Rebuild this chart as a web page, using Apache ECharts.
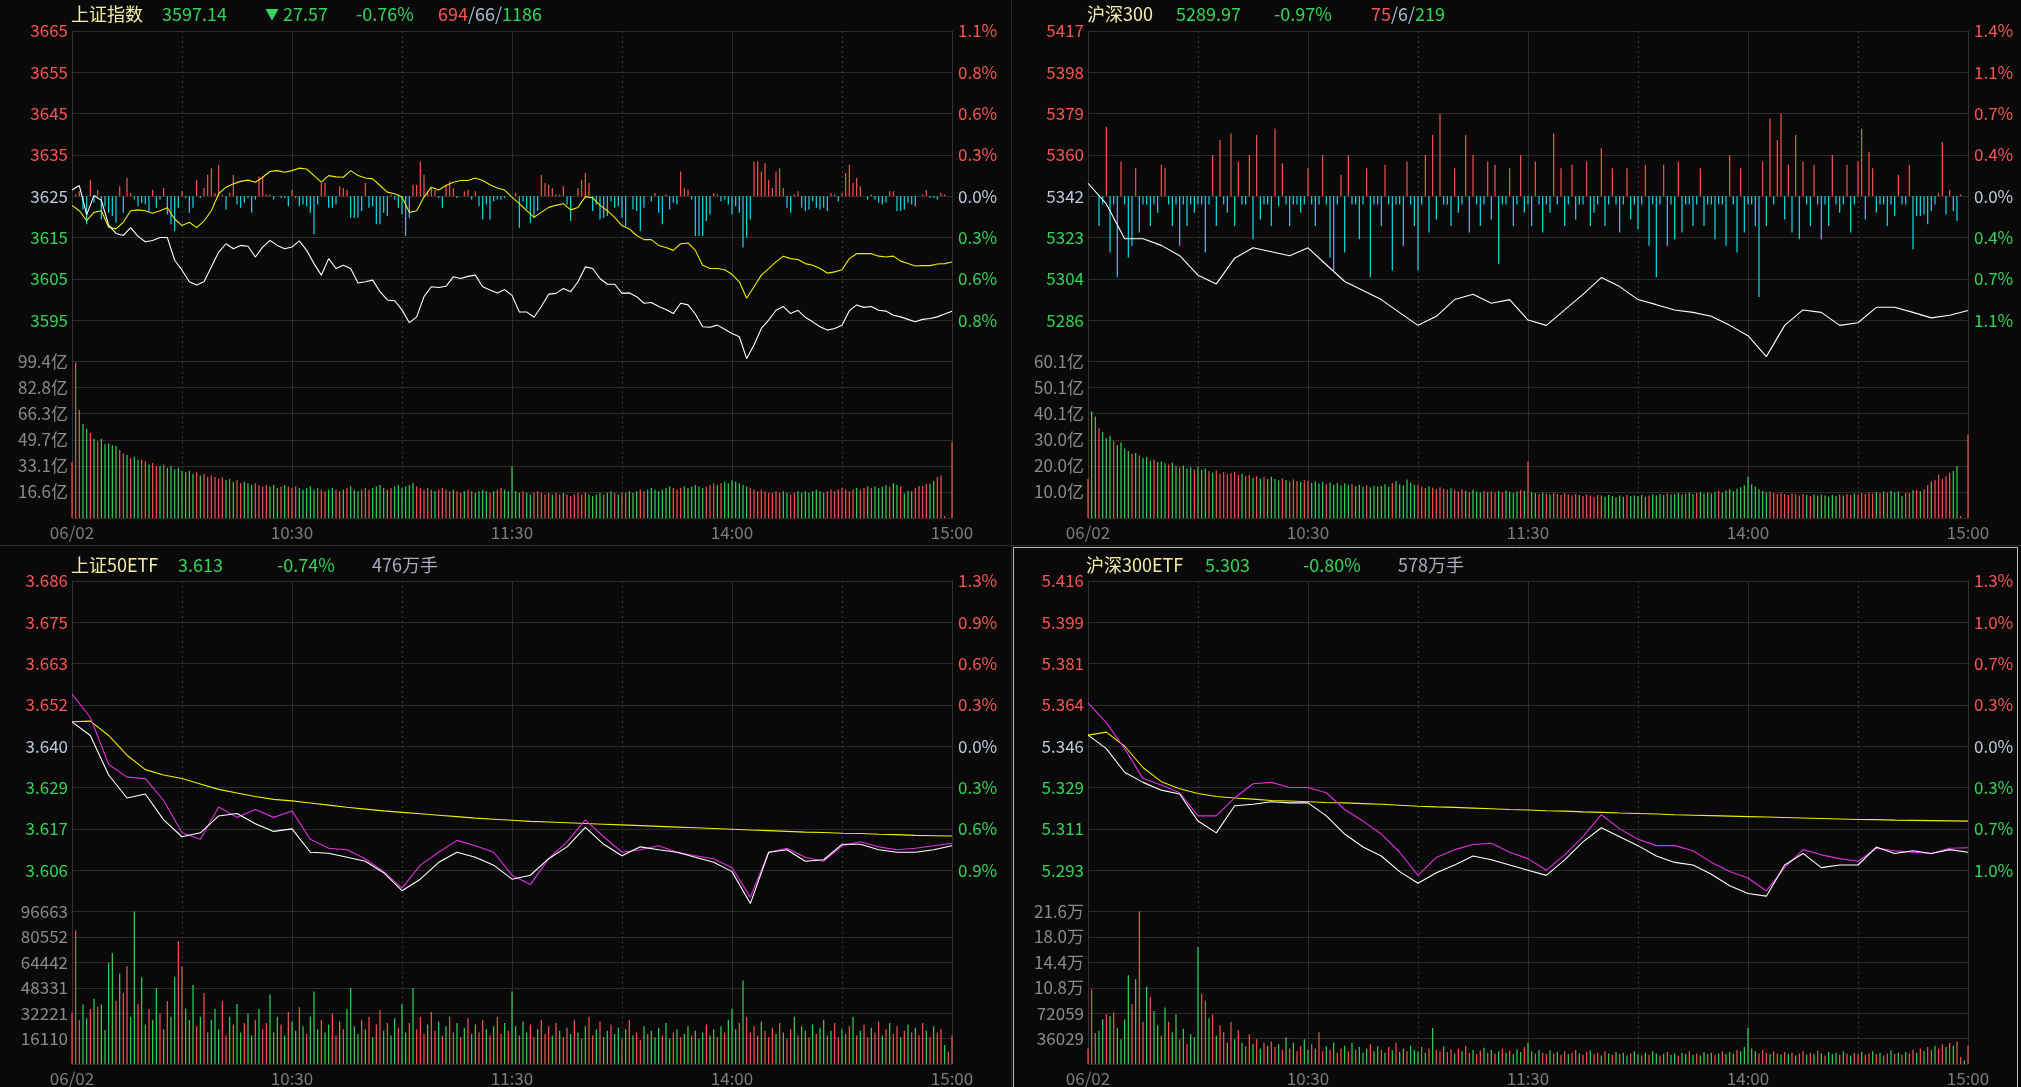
<!DOCTYPE html>
<html><head><meta charset="utf-8">
<script src="https://cdn.jsdelivr.net/npm/echarts@6/dist/echarts.min.js"></script>
<style>html,body{margin:0;padding:0;background:#090909;}#c{width:2021px;height:1087px;}</style>
</head><body><div id="c"></div>
<script>
const FONT = '"Noto Sans CJK SC","Noto Sans",sans-serif';
const RED = '#f75454', GREEN = '#34d458', CYAN = '#14dbe9', NEUTRAL = '#bccadb', GREY = '#8a8a8a';
const WHITE = '#ffffff', YELLOW = '#eded00', MAGENTA = '#e02ee0';
const timeLabels = ['06/02', '10:30', '11:30', '14:00', '15:00'];

// ---------- 上证指数 ----------
const shHeader = ['上证指数', '3597.14', '27.57', '-0.76%', '694', '66', '1186'];
const shPriceTicks = ['', '3595', '3605', '3615', '3625', '3635', '3645', '3655', '3665'];
const shPctTicks = ['', '0.8%', '0.6%', '0.3%', '0.0%', '0.3%', '0.6%', '0.8%', '1.1%'];
const shVolTicks = ['', '16.6亿', '33.1亿', '49.7亿', '66.3亿', '82.8亿', '99.4亿'];
const shPrice = [3626.5,3627.6,3620.5,3625.2,3624.0,3618.0,3616.0,3615.5,3617.4,3615.3,3614.0,3614.3,3615.0,3615.0,3609.5,3607.1,3604.3,3603.5,3604.3,3607.9,3611.5,3613.5,3612.3,3613.1,3612.9,3610.3,3612.7,3614.3,3613.1,3612.3,3612.7,3614.2,3611.9,3608.7,3605.9,3609.9,3607.5,3608.3,3607.5,3604.0,3604.3,3604.7,3601.9,3599.9,3599.7,3597.5,3594.4,3595.8,3600.7,3603.1,3602.9,3603.2,3605.5,3605.1,3605.6,3605.9,3603.1,3602.3,3601.6,3602.4,3601.0,
3597.0,3597.0,3595.7,3598.3,3601.3,3601.5,3602.7,3601.9,3604.3,3607.9,3607.5,3605.1,3603.7,3603.7,3601.5,3601.6,3600.7,3599.1,3599.3,3598.3,3597.6,3596.6,3599.1,3598.7,3596.5,3593.4,3593.3,3593.8,3592.8,3591.8,3591.0,3585.7,3589.0,3593.0,3595.0,3597.4,3598.3,3596.6,3597.4,3595.7,3594.6,3593.4,3592.6,3593.0,3593.8,3597.3,3598.7,3598.1,3598.3,3597.4,3597.2,3596.2,3595.8,3595.2,3594.6,3595.2,3595.4,3595.8,3596.5,3597.14];
const shLead = [3622.8,3621.5,3619.1,3621.1,3621.5,3617.5,3617.1,3618.7,3621.5,3621.7,3621.5,3620.9,3621.5,3622.2,3619.5,3617.9,3618.7,3617.4,3619.0,3621.5,3625.6,3627.2,3628.0,3628.6,3628.9,3628.4,3629.6,3631.0,3631.2,3630.8,3631.2,3631.8,3631.6,3630.0,3628.4,3630.0,3629.7,3629.6,3631.2,3630.0,3629.4,3629.2,3627.6,3626.0,3625.6,3624.8,3621.1,3621.5,3624.8,3627.2,3626.5,3627.6,3628.4,3628.8,3628.8,3629.4,3628.8,3627.8,3627.0,3626.5,3624.8,
3623.2,3621.5,3619.9,3621.1,3622.3,3622.8,3623.2,3621.7,3622.3,3624.9,3624.6,3622.8,3621.5,3619.9,3617.9,3617.1,3615.5,3614.5,3614.5,3613.1,3612.6,3611.9,3613.5,3613.7,3611.9,3608.3,3607.5,3607.5,3607.2,3606.1,3604.3,3600.3,3603.1,3605.9,3607.5,3609.1,3610.5,3609.9,3609.7,3608.7,3608.3,3607.5,3606.4,3606.7,3607.2,3609.9,3611.1,3611.1,3611.1,3610.5,3610.3,3610.5,3609.3,3608.7,3608.1,3608.2,3608.2,3608.6,3608.7,3609.1];
const shBreadth = [0,1,3,-8,-17,10,-4,4,-14,-6,-10,-12,-16,6,-10,11,2,-2,-6,-4,-5,-9,4,-7,-2,5,-11,-17,-21,-7,3,-1,-10,-7,10,-1,5,13,17,2,19,1,-8,2,13,-5,-7,-4,-1,-10,-2,12,12,1,1,-2,0,-1,-1,-6,4,-1,-6,-5,-6,-10,-23,-5,8,8,-7,-7,-5,6,5,4,-13,-13,-13,-9,8,-7,-6,-17,-17,-10,-12,1,-2,-7,-11,-24,-13,7,7,21,13,3,5,4,-1,-7,7,9,5,-1,0,3,4,-2,3,-6,-14,-5,-14,-3,-2,-2,-1,0,0,
2,-19,-3,-8,-16,-13,-9,13,8,7,5,1,1,6,-5,-15,0,5,10,14,8,-9,-5,-14,-13,-12,-3,-7,-6,-13,-18,0,-8,-9,-21,-7,0,-3,2,-10,-17,1,-8,-4,-5,15,5,4,-2,-24,-24,-24,-15,-11,2,1,-3,-2,-5,-11,-6,-10,-31,-25,-14,21,21,15,20,10,5,15,17,5,-7,-10,1,3,-7,-9,-8,-3,-7,-8,-7,-9,2,1,-3,2,14,19,8,11,6,0,-2,1,-2,-4,-5,-4,3,3,-9,-9,-8,-4,-5,-6,0,1,4,-1,-1,-2,2,1,0,0];
const shVol = [35.6,98.8,68.6,59.7,56.5,54.2,50.4,48.7,50.4,46.9, 47.4,46.2,45.8,43.2,41,40,38,39,37,37, 36,34,35,33,33,34,32,33,31,32, 30,29,30,28,29,27,28,26,27,26, 25,26,24,25,23,24,22,23,22,21,
22,21,20,21,20,21,19,20,21,20, 19,20,19,18,19,20,18,19,18,17, 18,19,18,17,18,19,20,18,17,18, 19,18,19,20,21,19,18,19,20,21, 19,20,21,22,20,19,18,19,18,17,
18,19,18,17,18,17,16,17,18,17, 16,17,18,17,16,17,18,19,18,17, 32.7,17,16,17,16,15,16,17,16,15, 16,15,16,15,16,15,14,15,16,15, 16,15,14,15,16,15,16,17,16,15,
16,16,17,16,17,18,17,18,19,18, 17,18,19,20,19,18,19,20,19,20, 21,20,19,20,21,22,21,22,23,22, 24,23,22,21,20,19,18,17,18,17, 16,16,17,16,17,16,15,16,17,16,
17,16,17,18,17,16,17,18,17,18, 19,18,17,18,19,18,19,20,19,20, 19,20,21,20,22,21,20,15.5,17.3,17, 19,20.4,20.4,21.6,21.6,23.5,26,27,1.2,0,48.3];
const shVolDir = 'rrrggrgrgg' + 'gggrrgrggr' + 'rgrrgrgggg' + 'ggggrgrrrr' + 'rrgrgrrggg' + 'rrrrgggrgr' + 'rrgggggrrr' + 'ggrrgrgggr' +
  'rrgggggrgg' + 'ggggrrrrrg' + 'rrrrgrrgrr' + 'ggggrgrrgg' + 'gggrggrrrr' + 'rgrrgrrrrr' + 'rggggrggrg' + 'rrgggrrggg' +
  'ggggrrrggg' + 'gggrrrgrgg' + 'gggggrrrrr' + 'rrrrggrrgg' + 'ggggggrrrr' + 'rrrrgrrgrg' + 'gggrggrggg' + 'rrrrggrrrgr';

// ---------- 沪深300 ----------
const hsHeader = ['沪深300', '5289.97', '-0.97%', '75', '6', '219'];
const hsPriceTicks = ['', '5286', '5304', '5323', '5342', '5360', '5379', '5398', '5417'];
const hsPctTicks = ['', '1.1%', '0.7%', '0.4%', '0.0%', '0.4%', '0.7%', '1.1%', '1.4%'];
const hsVolTicks = ['', '10.0亿', '20.0亿', '30.0亿', '40.1亿', '50.1亿', '60.1亿'];
const hsPrice = [5347.7,5338.3,5322.5,5322.5,5319.5,5314.8,5306,5302,5313.7,5318.4,5316.6,5314.8,5318.4,5310.7,5303.1,5299,5294.9,5289,5283.2,5287.3,5294.9,5297.3,5293.2,5294.9,5285.6,5283.2,5290.2,5297.3,5304.9,5300.8,5294.9,5292.6,5290.2,5289.1,5287.3,5283.2,5278.5,5269,5283.2,5290.2,5289.1,5283.2,5284.4,5291.4,5291.4,5289.1,5286.6,5287.8,5289.97];
const hsBreadth = [0,0,0,-18,-5,42,-34,-5,-49,21, -5,-37,-30,17,-22,-5,-5,-18,-5,-10, 19,17,-5,-18,-5,-30,-5,-18,-5,-10, -5,-5,-34,-5,25,-18,34,-5,-10,38, -18,21,-5,-5,25,-26,37,-14,-5,-5,
-18,41,-6,20,-5,-18,-5,-5,-10,-5, 17,-5,-18,-5,25,-5,-37,-45,-5,13, -34,25,-5,-5,-26,-5,17,-49,-5,-5, -18,19,-5,-45,-5,-5,-30,21,-5,-18, -45,-5,25,-22,37,-14,50,-5,-5,-18,
17,-10,-5,37,-22,25,-5,-18,-5,21, -14,19,-41,-5,-5,17,-18,-5,25,-10, -5,-18,21,-5,-22,-5,-10,38,-5,17, -18,-5,19,-14,-5,-5,21,-18,-10,-5, 29,-18,-5,17,-5,-22,-5,17,-14,-5,
-20,-5,19,-30,-5,-49,-5,19,-30,-5, -26,21,-22,-5,-5,-18,-5,17,-18,-5, -5,-26,-5,-5,-30,25,-5,-34,17,-22, -5,-5,-18,-61,21,-18,47,-5,34,50, -14,19,-22,37,-26,21,-5,-18,19,-5,
-26,-5,-18,25,-5,-10,-5,19,-22,-5, 21,41,-14,27,17,-10,-5,-5,-18,-5, -12,13,-5,-5,19,-32,-12,-12,-11,-17, -9,-5,2,33,-11,4,-9,-15,1,0,0];
const hsVol = [15,41,39,34.5,33,30.6,31.6,29.6,28,29, 26.7,25.7,24.7,25,24,23,23.5,22,22.5,21.5, 21.7,21,20.5,21.2,20,19.5,20.2,19,19.5,18.6, 19.8,18.5,19,18,17.5,18.2,17,17.6,16.8,17.2, 17.8,16.5,17,16,16.5,15.5,16,15.2,15.8,15,
15.8,15,14.5,15.2,14.6,14,14.8,14.2,13.8,14.5, 14.3,13.5,14,13.2,13.8,13,13.6,12.8,13.4,12.5, 13.3,12.6,13,12.2,12.8,12,12.6,11.8,12.4,12, 12.3,13,12,13.5,14.2,13,12.5,14.8,13.6,12.8, 12.8,12,11.5,12.2,11.6,11,11.8,11.2,10.8,11.4,
10.8,10.2,11,10.5,10,10.8,10.2,9.8,10.5,10, 10.3,9.8,10.4,9.9,10.6,10.1,9.6,10.2,10.8,10.4, 21.7,10,9.6,9.2,9.8,9.4,9,9.6,9.2,8.8, 9.4,9,8.6,9.2,8.8,8.4,9,8.6,8.2,8.8, 8.6,8.2,8.8,8.4,8,8.6,8.2,8.8,8.4,8.6,
8.4,8.8,8.2,8.6,9,8.6,9.2,8.8,9.4,9, 9.2,9.6,9,9.4,9.8,9.2,9.6,10,9.4,9.8, 9.4,10,10.4,9.8,10.6,11,10.4,11.2,11.8,12.6, 15.8,13,12,11,10.4,9.8,10.2,9.6,9.2,9.6, 9.2,8.8,9.4,9,8.6,9.2,8.8,8.4,9,8.6,
9,8.6,8.2,8.8,8.4,9,8.6,9.2,8.8,9.4, 9,9.6,9.2,9.8,9.4,10,9.6,10.2,9.8,10.4, 9.8,10.2,8.4,9.6,9.6,10.7,10.7,10.3,11,12.7, 14,14.7,16.7,15,16,17.4,18,20,0.8,0,32];
const hsVolDir = 'rggrgggrgg' + 'ggrgrgggrg' + 'ggrggrgggr' + 'gggrgrrrrr' + 'rrgrrgrgrg' + 'gggrgrrrgr' + 'rggggrgggg' + 'ggrgggrggg' +
  'gggrgggggg' + 'rrrgrrrrrg' + 'rrrgrgggrg' + 'rrgrggggrg' + 'rggrgrgrrr' + 'rrrrgrrrrr' + 'rggggggrgg' + 'gggrggggrg' +
  'gggrggrggg' + 'ggrggggggg' + 'ggggggrrrr' + 'rrrrrrgrgg' + 'gggggrgrrg' + 'rrrrrgrgrg' + 'gggrrgrgrr' + 'grrrrrggrgr';

// ---------- 上证50ETF ----------
const e50Header = ['上证50ETF', '3.613', '-0.74%', '476万手'];
const e50PriceTicks = ['', '3.606', '3.617', '3.629', '3.640', '3.652', '3.663', '3.675', '3.686'];
const e50PctTicks = ['', '0.9%', '0.6%', '0.3%', '0.0%', '0.3%', '0.6%', '0.9%', '1.3%'];
const e50VolTicks = ['', '16110', '32221', '48331', '64442', '80552', '96663'];
const e50Price = [3.6545,3.648,3.635,3.6314,3.631,3.6249,3.6159,3.6141,3.6231,3.6202,3.6224,3.6202,3.622,3.6141,3.6116,3.6112,3.6087,3.6051,3.6005,3.6069,3.6105,3.6138,3.6123,3.6105,3.6041,3.6015,3.6087,3.6134,3.6195,3.6148,3.6105,3.6112,3.6123,3.6105,3.6095,3.6087,3.6062,3.598,3.6105,3.6116,3.6091,3.608,3.6123,3.6134,3.612,3.6112,3.6116,3.6123,3.613];
const e50Index = [3.6468,3.643,3.632,3.6256,3.6267,3.6195,3.6148,3.6159,3.6206,3.6213,3.6184,3.6163,3.617,3.6105,3.6102,3.6091,3.608,3.6048,3.5998,3.603,3.6077,3.6105,3.6091,3.6069,3.603,3.6041,3.6087,3.612,3.6174,3.6127,3.6095,3.612,3.6112,3.6105,3.6091,3.6077,3.6051,3.5962,3.6105,3.6112,3.608,3.6084,3.6127,3.6127,3.6112,3.6105,3.6105,3.6112,3.6123];
const e50Avg = [3.6468,3.647,3.643,3.6375,3.6335,3.632,3.631,3.6295,3.628,3.627,3.626,3.6252,3.6248,3.6242,3.6236,3.623,3.6225,3.622,3.6216,3.6212,3.6208,3.6204,3.62,3.6197,3.6194,3.6191,3.6189,3.6187,3.6185,3.6183,3.6181,3.6179,3.6177,3.6175,3.6173,3.6171,3.6169,3.6167,3.6165,3.6163,3.6161,3.616,3.6158,3.6157,3.6155,3.6154,3.6152,3.6151,3.615];
const e50Vol = [32700,84600,27800,37700,29000,34800,41400,36400,37700,21600, 64200,70400,40100,57400,45000,62000,30000,96600,38000,55000, 25000,35000,28000,48000,32000,22000,40000,30000,55000,78000,
62000,35000,28000,50000,24000,30000,45000,20000,28000,35000, 22000,40000,18000,30000,25000,38000,20000,26000,32000,18000, 28000,35000,22000,26000,44000,20000,30000,25000,18000,33000,
27000,21000,36000,24000,19000,30000,46000,22000,28000,20000, 25000,32000,18000,27000,22000,35000,48000,24000,19000,28000, 22000,30000,17000,25000,34000,21000,26000,18000,29000,23000,
38000,20000,26000,48000,22000,30000,19000,25000,33000,21000, 27000,18000,24000,30000,20000,26000,17000,23000,29000,19000, 25000,20000,28000,22000,18000,24000,30000,19000,26000,21000,
46000,24000,18000,27000,20000,25000,17000,22000,28000,19000, 24000,18000,26000,21000,17000,23000,19000,28000,20000,16000, 24000,30000,18000,22000,27000,17000,21000,25000,19000,23000,
16000,22000,28000,18000,20000,15000,24000,19000,21000,17000, 23000,18000,26000,16000,20000,22000,17000,19000,24000,18000, 21000,16000,20000,25000,18000,22000,17000,24000,20000,28000,
35000,22000,26000,53000,30000,20000,24000,18000,27000,21000, 17000,23000,19000,26000,20000,16000,22000,30000,18000,24000, 21000,17000,25000,19000,23000,28000,18000,21000,26000,17000,
22000,19000,24000,30000,18000,21000,25000,17000,23000,20000, 27000,18000,22000,26000,19000,24000,17000,21000,25000,20000, 23000,18000,26000,21000,17000,24000,20000,22000,12000,8000,18000];
const e50VolDir = 'rrrggrgrgg' + 'ggrgrrggrg' + 'grggrgrggr' + 'rgggrgrrgg' + 'grrgrggrgg' + 'rgrrgggrgr' + 'ggrgrgggrg' + 'grrgrggggr' +
  'grgrrgrggr' + 'ggrgrrrgrr' + 'grgrrgrgrg' + 'grrgrgrrgr' + 'ggrggrrgrr' + 'rgrgrrgrgr' + 'grrgrggrgg' + 'rgrgrrgrgg' +
  'grggrgrggr' + 'gggrggrgrg' + 'ggrgrrrrgr' + 'rrgrgrrgrg' + 'grgrggrgrr' + 'grrgrgrrgr' + 'rgrgrrgrgr' + 'grrgrgrrgrr';

// ---------- 沪深300ETF ----------
const e300Header = ['沪深300ETF', '5.303', '-0.80%', '578万手'];
const e300PriceTicks = ['', '5.293', '5.311', '5.329', '5.346', '5.364', '5.381', '5.399', '5.416'];
const e300PctTicks = ['', '1.0%', '0.7%', '0.3%', '0.0%', '0.3%', '0.7%', '1.0%', '1.3%'];
const e300VolTicks = ['', '36029', '72059', '10.8万', '14.4万', '18.0万', '21.6万'];
const e300Price = [5.3644,5.356,5.345,5.3323,5.3296,5.3263,5.3165,5.3165,5.3241,5.3301,5.3307,5.3285,5.3285,5.3263,5.3192,5.3143,5.3088,5.3011,5.2913,5.2989,5.3022,5.3044,5.3049,5.3011,5.2984,5.2935,5.3,5.3077,5.317,5.311,5.3066,5.3039,5.3039,5.3017,5.2968,5.2929,5.2902,5.2847,5.2946,5.3022,5.3,5.2984,5.2973,5.3028,5.3017,5.3011,5.3006,5.3028,5.303];
const e300Index = [5.3507,5.345,5.335,5.3307,5.3274,5.3258,5.3143,5.3093,5.3208,5.3214,5.3225,5.322,5.322,5.3165,5.3088,5.3033,5.2995,5.2929,5.288,5.2924,5.2957,5.2995,5.2979,5.2957,5.2935,5.2913,5.2979,5.3055,5.3115,5.3077,5.3039,5.2995,5.2968,5.2957,5.2918,5.2869,5.2836,5.2825,5.2957,5.3006,5.2946,5.2957,5.2957,5.3033,5.3006,5.3017,5.3006,5.3022,5.3011];
const e300Avg = [5.3507,5.352,5.346,5.337,5.331,5.328,5.326,5.3247,5.3241,5.3236,5.323,5.3228,5.3225,5.3222,5.322,5.3217,5.3214,5.321,5.3206,5.3203,5.3201,5.3198,5.3195,5.3192,5.319,5.3187,5.3185,5.3182,5.318,5.3177,5.3175,5.3173,5.317,5.3168,5.3166,5.3164,5.3162,5.316,5.3158,5.3156,5.3154,5.3152,5.315,5.3149,5.3147,5.3146,5.3145,5.3144,5.3143];
const e300Vol = [22000,106000,44000,47000,63500,70500,68000,73000,51500,35000,63500,125700, 85000,120000,216000,60000,110000,95000,75000,55000,40000,80000,60000,45000,70000,35000,50000,28000,42000,38000,
166000,100000,90000,65000,70000,40000,55000,45000,30000,60000, 35000,48000,30000,25000,42000,28000,35000,22000,30000,26000, 32000,24000,28000,20000,38000,22000,30000,18000,25000,35000,
20000,28000,22000,45000,18000,25000,20000,30000,16000,22000, 26000,18000,30000,20000,24000,16000,22000,28000,18000,25000, 20000,16000,24000,19000,30000,17000,22000,18000,26000,20000,
18000,24000,16000,22000,51000,20000,18000,25000,17000,21000, 15000,22000,18000,26000,16000,20000,14000,19000,23000,16000, 20000,15000,18000,22000,16000,19000,14000,21000,17000,24000,
30000,18000,15000,20000,16000,14000,19000,15000,17000,13000, 18000,14000,16000,20000,15000,13000,17000,19000,14000,16000, 12000,18000,15000,13000,17000,14000,16000,12000,15000,18000,
14000,12000,16000,13000,18000,15000,12000,14000,17000,13000, 15000,12000,16000,14000,18000,13000,15000,12000,17000,14000, 16000,13000,15000,18000,14000,17000,15000,20000,18000,24000,
51000,22000,18000,15000,20000,16000,14000,18000,15000,13000, 17000,14000,16000,12000,15000,18000,13000,16000,14000,19000, 15000,12000,17000,14000,16000,13000,18000,15000,12000,16000,
14000,17000,13000,15000,18000,14000,16000,12000,15000,19000, 14000,16000,13000,17000,15000,20000,16000,22000,18000,24000, 20000,26000,22000,28000,24000,30000,26000,32000,10000,5000,26000];
const e300VolDir = 'rrrggrgrgg' + 'ggrgrrgrgg' + 'rgrggrgrgg' + 'grrgrgrrgr' + 'grgrrgrgrg' + 'rrgrgrgrrg' + 'grgrrgrgrr' + 'grgrgggrgg' +
  'rgrgrggrgg' + 'grgrgrrgrr' + 'grgrrgrrgr' + 'grgrgrgggr' + 'ggrgrrgrgr' + 'rgrrgrrgrr' + 'grgrgrggrg' + 'grgrggrgrg' +
  'grggrgrggr' + 'grgrgggrgg' + 'gggrrrgrrg' + 'rgrgrrgrgr' + 'grgggrgrgr' + 'rgrrgrgrrg' + 'rgrgrrgrgr' + 'rgrrgrgrrgr';

// ---------- layout (positions / styles) ----------
const W = 880, PH = 330.5, VH = 156.5;
const panels = [
  {x: 72, y: 31, pMin: 3585, pMax: 3665, pStep: 10, vMax: 99.42, vStep: 16.57,
   pt: shPriceTicks, ct: shPctTicks, vt: shVolTicks,
   lines: [[shLead, YELLOW], [shPrice, WHITE]], breadth: shBreadth, vol: shVol, dir: shVolDir},
  {x: 1088, y: 31, pMin: 5266.8, pMax: 5416.8, pStep: 18.75, vMax: 60.09, vStep: 10.015,
   pt: hsPriceTicks, ct: hsPctTicks, vt: hsVolTicks,
   lines: [[hsPrice, WHITE]], breadth: hsBreadth, vol: hsVol, dir: hsVolDir},
  {x: 72, y: 581, pMin: 3.594, pMax: 3.686, pStep: 0.0115, vMax: 96663, vStep: 16110.5,
   pt: e50PriceTicks, ct: e50PctTicks, vt: e50VolTicks,
   lines: [[e50Avg, YELLOW], [e50Price, MAGENTA], [e50Index, WHITE]], breadth: null, vol: e50Vol, dir: e50VolDir},
  {x: 1088, y: 581, pMin: 5.276, pMax: 5.416, pStep: 0.0175, vMax: 216177, vStep: 36029.5,
   pt: e300PriceTicks, ct: e300PctTicks, vt: e300VolTicks,
   lines: [[e300Avg, YELLOW], [e300Price, MAGENTA], [e300Index, WHITE]], breadth: null, vol: e300Vol, dir: e300VolDir}
];

const grid = [], xAxis = [], yAxis = [], series = [];
const richSet = (size) => ({
  r: {color: RED, fontSize: size, fontFamily: FONT},
  g: {color: GREEN, fontSize: size, fontFamily: FONT},
  n: {color: NEUTRAL, fontSize: size, fontFamily: FONT},
  v: {color: GREY, fontSize: size, fontFamily: FONT}
});
function xAx(gi, showLabel) {
  return {type: 'value', gridIndex: gi, min: 0, max: 240, interval: 60,
    axisLine: {show: false}, axisTick: {show: false},
    axisLabel: {show: showLabel, margin: 6, color: '#7c7c7c', fontSize: 17, fontFamily: FONT,
      formatter: v => timeLabels[Math.round(v / 60)] || ''},
    splitLine: {show: true, lineStyle: {color: '#2b2b2b', width: 1}},
    minorTick: {show: false, splitNumber: 2},
    minorSplitLine: {show: true, lineStyle: {color: '#383838', width: 1, type: [2, 3]}}};
}
function priceLabel(ticks, min, step) {
  return v => {
    const i = Math.round((v - min) / step);
    const t = ticks[i] || '';
    if (!t) return '';
    return '{' + (i < 4 ? 'g' : (i > 4 ? 'r' : 'n')) + '|' + t + '}';
  };
}
function toXY(arr) {
  const st = 240 / (arr.length - 1);
  return arr.map((v, i) => [i * st, v]);
}

panels.forEach((p) => {
  const gP = grid.length;
  grid.push({left: p.x, top: p.y, width: W, height: PH});
  grid.push({left: p.x, top: p.y + PH, width: W, height: VH});
  const xP = xAxis.length;
  xAxis.push(xAx(gP, false));
  xAxis.push(xAx(gP + 1, true));
  const yP = yAxis.length;
  yAxis.push({type: 'value', gridIndex: gP, position: 'left', min: p.pMin, max: p.pMax, interval: p.pStep,
    axisLine: {show: true, lineStyle: {color: '#333333'}}, axisTick: {show: false},
    splitLine: {show: true, lineStyle: {color: '#2b2b2b'}},
    axisLabel: {margin: 4, formatter: priceLabel(p.pt, p.pMin, p.pStep), rich: richSet(17)}});
  yAxis.push({type: 'value', gridIndex: gP, position: 'right', min: p.pMin, max: p.pMax, interval: p.pStep,
    axisLine: {show: true, lineStyle: {color: '#333333'}}, axisTick: {show: false}, splitLine: {show: false},
    axisLabel: {margin: 6, formatter: priceLabel(p.ct, p.pMin, p.pStep), rich: richSet(17)}});
  yAxis.push({type: 'value', gridIndex: gP, min: -100, max: 100, show: false});
  yAxis.push({type: 'value', gridIndex: gP + 1, position: 'left', min: 0, max: p.vMax, interval: p.vStep,
    axisLine: {show: true, lineStyle: {color: '#333333'}}, axisTick: {show: false},
    splitLine: {show: true, lineStyle: {color: '#2b2b2b'}},
    axisLabel: {margin: 4, formatter: v => { const i = Math.round(v / p.vStep); return p.vt[i] ? '{v|' + p.vt[i] + '}' : ''; }, rich: richSet(17)}});
  yAxis.push({type: 'value', gridIndex: gP + 1, position: 'right', min: 0, max: p.vMax, interval: p.vStep,
    axisLine: {show: true, lineStyle: {color: '#333333'}}, axisTick: {show: false}, splitLine: {show: false},
    axisLabel: {show: false}});

  if (p.breadth) {
    series.push({type: 'bar', xAxisIndex: xP, yAxisIndex: yP + 2, barWidth: 1.2, silent: true,
      data: toXY(p.breadth),
      itemStyle: {color: q => q.value[1] >= 0 ? RED : CYAN}});
  }
  p.lines.forEach(([d, c]) => {
    series.push({type: 'line', xAxisIndex: xP, yAxisIndex: yP, data: toXY(d), showSymbol: false, symbol: 'none',
      silent: true, lineStyle: {color: c, width: 1.1}, z: 5});
  });
  series.push({type: 'bar', xAxisIndex: xP + 1, yAxisIndex: yP + 3, barWidth: 1.2, silent: true,
    data: toXY(p.vol),
    itemStyle: {color: q => p.dir[q.dataIndex] === 'r' ? RED : GREEN}});
});

const HF = 18;
function T(x, y, text, fill, size) {
  return {type: 'text', x: x, y: y, silent: true,
    style: {text: text, fill: fill, fontSize: size || HF, fontFamily: FONT, verticalAlign: 'middle', align: 'left'}};
}
function TR(x, y, text, rich) {
  return {type: 'text', x: x, y: y, silent: true,
    style: {text: text, fontSize: HF, fontFamily: FONT, verticalAlign: 'middle', align: 'left', rich: rich}};
}
const hr = {r: {fill: RED, fontSize: HF, fontFamily: FONT}, n: {fill: '#a9b9d0', fontSize: HF, fontFamily: FONT}, g: {fill: GREEN, fontSize: HF, fontFamily: FONT}};
const NAMEC = '#f3eea6', VOLC = '#a6aebd';
const graphic = [
  {type: 'line', silent: true, shape: {x1: 0, y1: 545.5, x2: 2021, y2: 545.5}, style: {stroke: '#2a2a2a', lineWidth: 1}},
  {type: 'line', silent: true, shape: {x1: 1011.5, y1: 0, x2: 1011.5, y2: 1087}, style: {stroke: '#2a2a2a', lineWidth: 1}},
  {type: 'rect', silent: true, shape: {x: 1013.5, y: 547.5, width: 1004, height: 560}, style: {fill: 'none', stroke: '#bdbdbd', lineWidth: 1}},
  T(71, 14, shHeader[0], NAMEC), T(162, 14, shHeader[1], GREEN), T(265, 14, '▼', GREEN, 14), T(283, 14, shHeader[2], GREEN),
  T(356, 14, shHeader[3], GREEN),
  TR(438, 14, '{r|' + shHeader[4] + '}{n|/' + shHeader[5] + '/}{g|' + shHeader[6] + '}', hr),
  T(1087, 14, hsHeader[0], NAMEC), T(1176, 14, hsHeader[1], GREEN), T(1274, 14, hsHeader[2], GREEN),
  TR(1371, 14, '{r|' + hsHeader[3] + '}{n|/' + hsHeader[4] + '/}{g|' + hsHeader[5] + '}', hr),
  T(71, 565, e50Header[0], NAMEC), T(178, 565, e50Header[1], GREEN), T(277, 565, e50Header[2], GREEN), T(372, 565, e50Header[3], VOLC),
  T(1086, 565, e300Header[0], NAMEC), T(1205, 565, e300Header[1], GREEN), T(1303, 565, e300Header[2], GREEN), T(1398, 565, e300Header[3], VOLC)
];

const chart = echarts.init(document.getElementById('c'), null, {renderer: 'canvas'});
chart.setOption({backgroundColor: '#090909', animation: false, grid, xAxis, yAxis, series, graphic});
</script></body></html>
